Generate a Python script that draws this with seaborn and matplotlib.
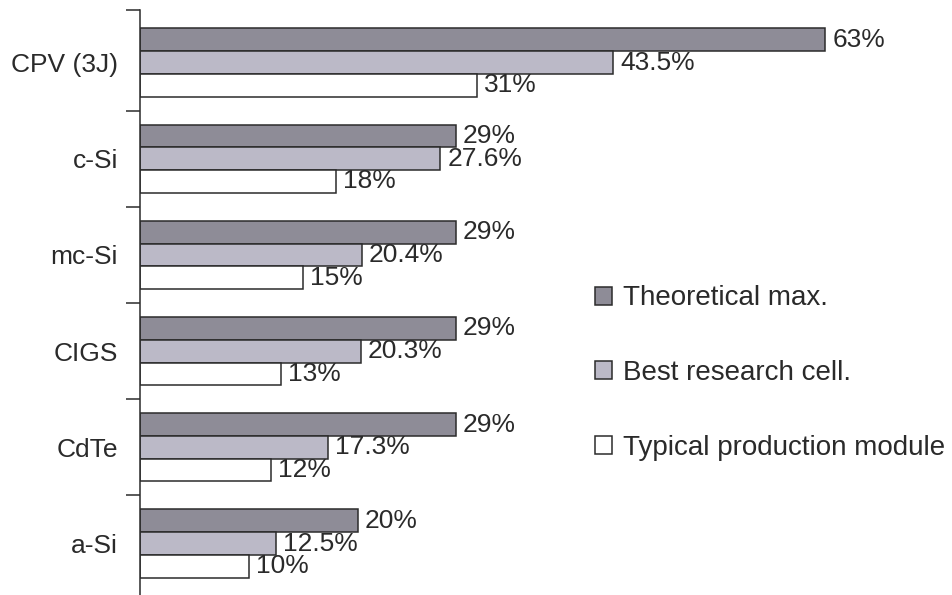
import numpy as np
import pandas as pd
import matplotlib
matplotlib.use("Agg")
import matplotlib.pyplot as plt
from matplotlib.ticker import FixedLocator
import seaborn as sns

# Photovoltaic technology efficiencies (%)
technologies = ["CPV (3J)", "c-Si", "mc-Si", "CIGS", "CdTe", "a-Si"]
theoretical_max = [63, 29, 29, 29, 29, 20]
best_research = [43.5, 27.6, 20.4, 20.3, 17.3, 12.5]
typical_module = [31, 18, 15, 13, 12, 10]
series_names = ["Theoretical max.", "Best research cell.", "Typical production module"]
series_colors = ["#8e8c97", "#bbb9c7", "#ffffff"]

df = pd.DataFrame({
    "technology": technologies * 3,
    "efficiency": theoretical_max + best_research + typical_module,
    "series": [series_names[0]] * 6 + [series_names[1]] * 6 + [series_names[2]] * 6,
})

sns.set_theme(style="white")
plt.rcParams["font.family"] = ["Liberation Sans", "DejaVu Sans"]
text_color = "#2a2a2a"
edge_color = "#2b2b2b"

fig = plt.figure(figsize=(9.52, 5.95), dpi=100)
ax = fig.add_axes([140 / 952, 0, 812 / 952, 1])

sns.barplot(
    data=df, y="technology", x="efficiency", hue="series",
    order=technologies, hue_order=series_names, palette=series_colors,
    orient="h", width=0.71, edgecolor=edge_color, linewidth=1.1,
    saturation=1, ax=ax, legend=True,
)

for container in ax.containers:
    ax.bar_label(container, labels=[f"{v:g}%" for v in container.datavalues],
                 padding=5, fontsize=19, color=text_color)

ax.set_xlim(0, 812 / 10.88)
ax.set_ylim(5.535, -0.65)

# Category labels without tick marks; group separators as outward ticks
ax.tick_params(axis="y", which="major", length=0, pad=16, labelsize=19, labelcolor=text_color)
ax.yaxis.set_minor_locator(FixedLocator([-0.55, 0.5, 1.5, 2.5, 3.5, 4.5]))
ax.tick_params(axis="y", which="minor", length=10, width=1.1, color=edge_color, direction="out", left=True)
ax.set_xticks([])
ax.set_xlabel("")
ax.set_ylabel("")

for side in ["top", "right", "bottom"]:
    ax.spines[side].set_visible(False)
ax.spines["left"].set_color(edge_color)
ax.spines["left"].set_linewidth(1.1)
ax.spines["left"].set_bounds(-0.55, 5.535)

handles, labels = ax.get_legend_handles_labels()
ax.legend(
    handles, labels, loc="center left",
    bbox_to_anchor=(595 / 952, (595 - 373) / 595), bbox_transform=fig.transFigure,
    frameon=False, fontsize=20, labelcolor=text_color,
    handlelength=0.62, handleheight=0.62, handletextpad=0.4,
    labelspacing=1.75, borderpad=0, borderaxespad=0,
)

fig.savefig("out.png", dpi=100, facecolor="white")
